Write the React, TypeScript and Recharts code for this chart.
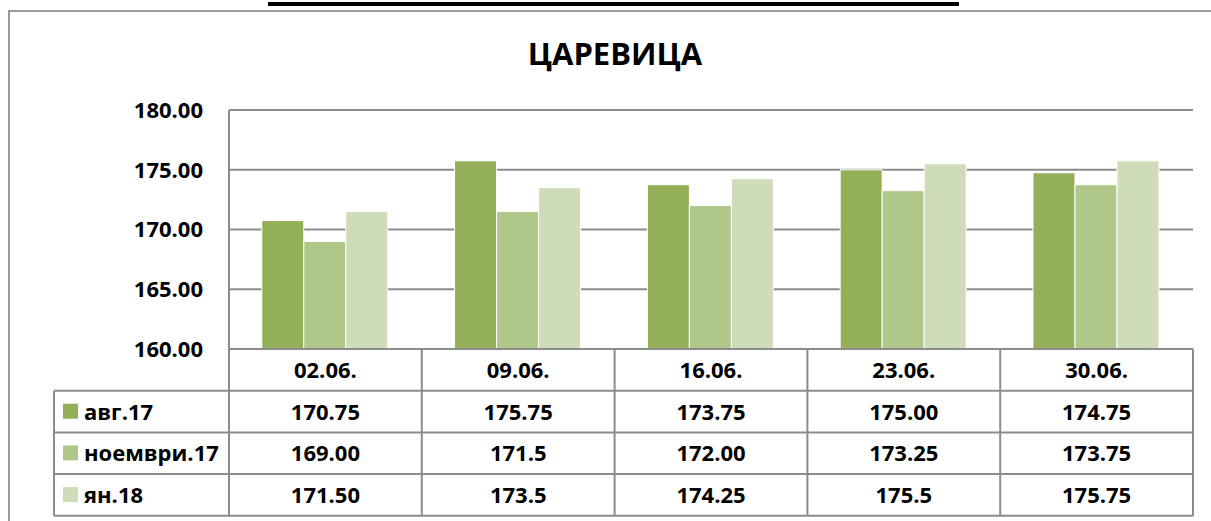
import React from "react";
import { BarChart, Bar, XAxis, YAxis, CartesianGrid } from "recharts";

const dates = ["02.06.", "09.06.", "16.06.", "23.06.", "30.06."];
const aug17 = [170.75, 175.75, 173.75, 175.0, 174.75];
const nov17 = [169.0, 171.5, 172.0, 173.25, 173.75];
const jan18 = [171.5, 173.5, 174.25, 175.5, 175.75];
// table cells as printed in the source
const aug17Labels = ["170.75", "175.75", "173.75", "175.00", "174.75"];
const nov17Labels = ["169.00", "171.5", "172.00", "173.25", "173.75"];
const jan18Labels = ["171.50", "173.5", "174.25", "175.5", "175.75"];
const yTicks = [160, 165, 170, 175, 180];

const seriesNames = ["авг.17", "ноември.17", "ян.18"];
const colors = ["#93B058", "#B0C78A", "#CFDCBA"];
const tableLabels = [aug17Labels, nov17Labels, jan18Labels];

const W = 1211;
const H = 521;
const PLOT_LEFT = 229;
const PLOT_RIGHT = 1193;
const PLOT_TOP = 110;
const PLOT_BOTTOM = 349;
const ROW_H = 41.7;
const LEGEND_LEFT = 54;
const FONT = "'Open Sans', sans-serif";
const FS = 22;
const LINE = "#8c8c8c";

const data = dates.map((d, i) => ({
  date: d,
  aug: aug17[i],
  nov: nov17[i],
  jan: jan18[i],
}));

function TableTick(props: any) {
  const { x, index } = props;
  const colW = (PLOT_RIGHT - PLOT_LEFT) / dates.length;
  const y0 = PLOT_BOTTOM;
  const rowsBottom = y0 + ROW_H * 4;
  const txt = {
    fontFamily: FONT,
    fontWeight: 700,
    fontSize: FS,
    fill: "#000",
    textAnchor: "middle" as const,
  };
  return (
    <g>
      {index === 0 && (
        <g>
          <line x1={PLOT_LEFT} x2={PLOT_LEFT} y1={y0} y2={rowsBottom} stroke={LINE} strokeWidth={2} />
          <line x1={LEGEND_LEFT} x2={LEGEND_LEFT} y1={y0 + ROW_H} y2={rowsBottom} stroke={LINE} strokeWidth={2} />
          {[1, 2, 3, 4].map((r) => (
            <line
              key={r}
              x1={LEGEND_LEFT}
              x2={PLOT_RIGHT}
              y1={y0 + ROW_H * r}
              y2={y0 + ROW_H * r}
              stroke={LINE}
              strokeWidth={2}
            />
          ))}
          {seriesNames.map((n, r) => (
            <g key={n}>
              <rect
                x={LEGEND_LEFT + 9}
                y={y0 + ROW_H * (r + 1) + 13}
                width={15}
                height={15}
                fill={colors[r]}
              />
              <text
                x={LEGEND_LEFT + 30}
                y={y0 + ROW_H * (r + 1) + 29}
                fontFamily={FONT}
                fontWeight={700}
                fontSize={FS}
                fill="#000"
              >
                {n}
              </text>
            </g>
          ))}
        </g>
      )}
      <line
        x1={x + colW / 2}
        x2={x + colW / 2}
        y1={y0}
        y2={rowsBottom}
        stroke={LINE}
        strokeWidth={2}
      />
      <text x={x} y={y0 + 29} {...txt}>
        {dates[index]}
      </text>
      {tableLabels.map((labels, r) => (
        <text key={r} x={x} y={y0 + ROW_H * (r + 1) + 29} {...txt}>
          {labels[index]}
        </text>
      ))}
    </g>
  );
}

export default function App() {
  return (
    <div
      style={{
        position: "fixed",
        left: 0,
        top: 0,
        width: W,
        height: H,
        overflow: "hidden",
        background: "#fff",
      }}
    >
      {/* cut-off heading underline from the page above */}
      <div
        style={{
          position: "absolute",
          left: 268,
          top: 2,
          width: 691,
          height: 4,
          background: "#000",
        }}
      />
      <div
        style={{
          position: "absolute",
          left: 8,
          top: 10,
          width: 1400,
          height: 700,
          border: "2px solid #9a9a9a",
        }}
      />
      <div
        style={{
          position: "absolute",
          left: 0,
          top: 32,
          width: 1230,
          textAlign: "center",
          fontFamily: FONT,
          fontWeight: 700,
          fontSize: 31,
          color: "#000",
        }}
      >
        ЦАРЕВИЦА
      </div>
      <div style={{ position: "absolute", left: 0, top: 0 }}>
        <BarChart
          width={W}
          height={H}
          data={data}
          margin={{ top: PLOT_TOP, right: W - PLOT_RIGHT, left: PLOT_LEFT - 100, bottom: 7 }}
          barCategoryGap="17%"
          barGap={0}
        >
          <CartesianGrid vertical={false} stroke={LINE} strokeWidth={2} />
          <YAxis
            domain={[160, 180]}
            ticks={yTicks}
            width={100}
            tickFormatter={(v: number) => v.toFixed(2)}
            tick={{ fontFamily: FONT, fontWeight: 700, fontSize: FS, fill: "#000" }}
            tickLine={false}
            axisLine={{ stroke: LINE, strokeWidth: 2 }}
            tickMargin={20}
            interval={0}
          />
          <XAxis
            dataKey="date"
            height={H - PLOT_BOTTOM - 7}
            tick={<TableTick />}
            tickLine={false}
            axisLine={{ stroke: LINE, strokeWidth: 2 }}
            interval={0}
          />
          <Bar dataKey="aug" fill={colors[0]} stroke="#fff" strokeWidth={1} isAnimationActive={false} />
          <Bar dataKey="nov" fill={colors[1]} stroke="#fff" strokeWidth={1} isAnimationActive={false} />
          <Bar dataKey="jan" fill={colors[2]} stroke="#fff" strokeWidth={1} isAnimationActive={false} />
        </BarChart>
      </div>
    </div>
  );
}
